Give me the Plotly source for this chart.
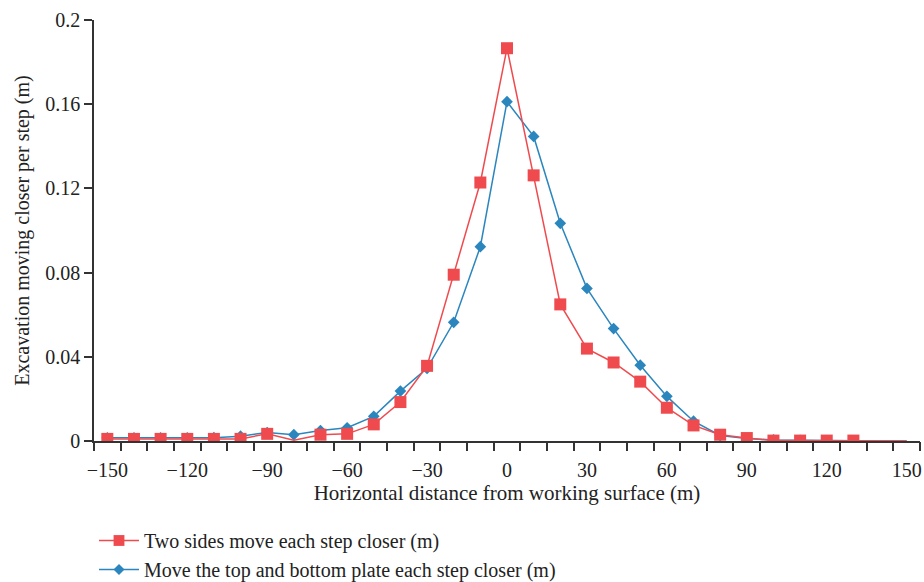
import plotly.graph_objects as go

x_vals = [-150, -140, -130, -120, -110, -100, -90, -80, -70, -60, -50, -40, -30, -20, -10,
          0, 10, 20, 30, 40, 50, 60, 70, 80, 90, 100, 110, 120, 130, 140, 150]

two_sides = [0.001, 0.001, 0.001, 0.001, 0.001, 0.001, 0.0034, 0.0004, 0.003, 0.0034, 0.0079,
             0.0185, 0.0357, 0.079, 0.1228, 0.1866, 0.1262, 0.0649, 0.0439, 0.0373, 0.0282,
             0.0158, 0.0074, 0.003, 0.0014, 0.0002, 0.0002, 0.0002, 0.0002, 0.0, 0.0]

top_bottom = [0.0015, 0.0015, 0.0015, 0.0015, 0.0016, 0.0023, 0.004, 0.003, 0.005, 0.0063,
              0.0117, 0.0237, 0.0345, 0.0564, 0.0923, 0.1612, 0.1447, 0.1034, 0.0725, 0.0534,
              0.036, 0.0212, 0.0094, 0.0026, 0.0012, 0.0005, 0.0003, 0.0002, 0.0001, 0.0, 0.0]

x_tick_vals = [-150, -120, -90, -60, -30, 0, 30, 60, 90, 120, 150]
x_tick_text = ["\u2212150", "\u2212120", "\u221290", "\u221260", "\u221230", "0", "30", "60", "90", "120", "150"]
y_tick_vals = [0, 0.04, 0.08, 0.12, 0.16, 0.2]
y_tick_text = ["0", "0.04", "0.08", "0.12", "0.16", "0.2"]

RED = "#EF4B4F"
BLUE = "#2B86BE"
FONT = "Liberation Serif"
AXC = "#333333"
TXT = "#222222"

red_sizes = [12] * len(x_vals)
red_sizes[7] = 0
red_sizes[-1] = 0
red_sizes[-2] = 0
blue_sizes = [9] * len(x_vals)
blue_sizes[-1] = 0
blue_sizes[-2] = 0

fig = go.Figure()
fig.add_trace(go.Scatter(
    x=x_vals, y=top_bottom, mode="lines+markers",
    name="Move the top and bottom plate each step closer (m)",
    line=dict(color=BLUE, width=1.5),
    marker=dict(symbol="diamond", size=blue_sizes, color=BLUE, opacity=1,
                line=dict(width=0)),
    legendrank=2,
))
fig.add_trace(go.Scatter(
    x=x_vals, y=two_sides, mode="lines+markers",
    name="Two sides move each step closer (m)",
    line=dict(color=RED, width=1.5),
    marker=dict(symbol="square", size=red_sizes, color=RED, opacity=1,
                line=dict(width=0)),
    legendrank=1,
))
# invisible trace to carry the secondary x axis (tick marks between labels)
fig.add_trace(go.Scatter(x=[-155, 155], y=[None, None], xaxis="x2", showlegend=False,
                         hoverinfo="skip"))

fig.update_layout(
    width=924, height=582,
    margin=dict(l=94, r=4, t=20, b=141, autoexpand=False),
    paper_bgcolor="white", plot_bgcolor="white",
    font=dict(family=FONT, size=21, color=TXT),
    showlegend=True,
    legend=dict(x=0, xanchor="left", y=-0.19, yanchor="top", orientation="v",
                font=dict(family=FONT, size=20, color=TXT), itemwidth=40,
                tracegroupgap=0, bgcolor="rgba(0,0,0,0)"),
    xaxis=dict(
        range=[-155, 155], tickvals=x_tick_vals, ticktext=x_tick_text,
        ticks="outside", ticklen=10, tickcolor="rgba(0,0,0,0)",
        showgrid=False, zeroline=False,
        showline=True, linecolor=AXC, linewidth=1.5,
        tickfont=dict(family=FONT, size=20, color=TXT),
        title=dict(text="Horizontal distance from working surface (m)",
                   font=dict(family=FONT, size=21, color=TXT), standoff=6),
    ),
    xaxis2=dict(
        overlaying="x", anchor="y", side="bottom", range=[-155, 155],
        tick0=-155, dtick=10, ticks="outside", ticklen=9, tickwidth=1.5, tickcolor=AXC,
        showticklabels=False, showgrid=False, zeroline=False, showline=False,
    ),
    yaxis=dict(
        range=[0, 0.2], tickvals=y_tick_vals, ticktext=y_tick_text,
        ticks="outside", ticklen=8, tickwidth=1.5, tickcolor=AXC,
        showgrid=False, zeroline=False, showline=True, linecolor=AXC, linewidth=1.5,
        tickfont=dict(family=FONT, size=20, color=TXT),
        title=dict(text="Excavation moving closer per step (m)",
                   font=dict(family=FONT, size=20, color=TXT), standoff=10),
    ),
)

fig.write_html("out.html")
